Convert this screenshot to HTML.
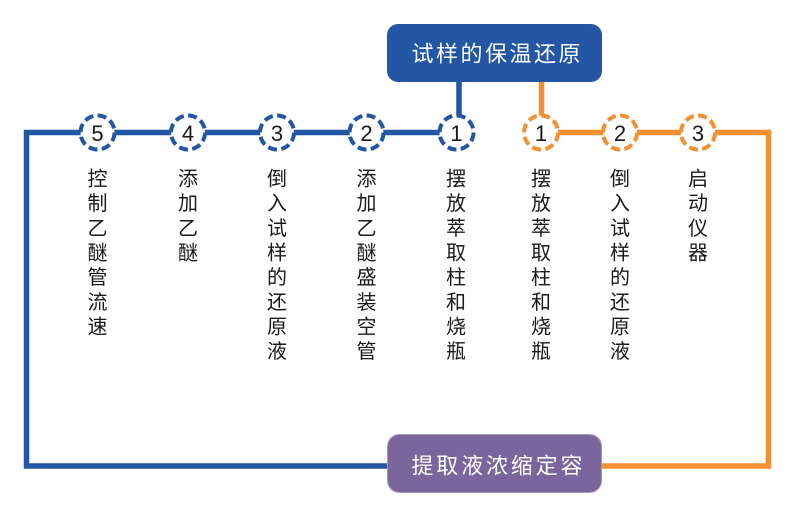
<!DOCTYPE html>
<html>
<head>
<meta charset="utf-8">
<style>
  html,body{margin:0;padding:0;background:#fff;}
  svg{display:block;}
  text{font-family:"Liberation Sans","Noto Sans CJK SC",sans-serif;}
</style>
</head>
<body>
<svg width="806" height="520" viewBox="0 0 806 520" xmlns="http://www.w3.org/2000/svg">
  <!-- connector lines -->
  <path d="M459 82 V132.5 H26.5 V466 H390" fill="none" stroke="#2456a6" stroke-width="5.5" stroke-linejoin="miter"/>
  <path d="M541.5 82 V132.5 H768.5 V466 H600" fill="none" stroke="#f39132" stroke-width="5.5" stroke-linejoin="miter"/>

  <!-- top box -->
  <rect x="387" y="24" width="215" height="58" rx="11" ry="11" fill="#2456a6"/>
  <text font-size="22" fill="#ffffff" text-anchor="middle">
    <tspan x="422.5" y="61.5">试</tspan><tspan x="447" y="61.5">样</tspan><tspan x="471.5" y="61.5">的</tspan><tspan x="496" y="61.5">保</tspan><tspan x="520.5" y="61.5">温</tspan><tspan x="545" y="61.5">还</tspan><tspan x="569.5" y="61.5">原</tspan>
  </text>

  <!-- bottom box -->
  <rect x="387.5" y="434.5" width="214" height="58" rx="12" ry="12" fill="#7a659c" stroke="#a597c0" stroke-width="1"/>
  <text font-size="22" fill="#ffffff" text-anchor="middle">
    <tspan x="422.5" y="473.5">提</tspan><tspan x="447.3" y="473.5">取</tspan><tspan x="472.2" y="473.5">液</tspan><tspan x="497" y="473.5">浓</tspan><tspan x="521.8" y="473.5">缩</tspan><tspan x="546.7" y="473.5">定</tspan><tspan x="571.5" y="473.5">容</tspan>
  </text>

  <!-- circles blue -->
  <g fill="#ffffff" stroke="#2456a6" stroke-width="4" stroke-dasharray="9 4.35">
    <circle cx="97.5" cy="132.5" r="17"/>
    <circle cx="188" cy="132.5" r="17"/>
    <circle cx="277" cy="132.5" r="17"/>
    <circle cx="366.5" cy="132.5" r="17"/>
    <circle cx="456.5" cy="132.5" r="17"/>
  </g>
  <!-- circles orange -->
  <g fill="#ffffff" stroke="#f39132" stroke-width="4" stroke-dasharray="9 4.35">
    <circle cx="541" cy="132.5" r="17"/>
    <circle cx="620" cy="132.5" r="17"/>
    <circle cx="698" cy="132.5" r="17"/>
  </g>

  <!-- numbers -->
  <g font-size="22" fill="#1a1a1a" text-anchor="middle">
    <text x="97.5" y="141.2">5</text>
    <text x="188" y="141.2">4</text>
    <text x="277" y="141.2">3</text>
    <text x="366.5" y="141.2">2</text>
    <text x="456.5" y="141.2">1</text>
    <text x="541" y="141.2">1</text>
    <text x="620" y="141.2">2</text>
    <text x="698" y="141.2">3</text>
  </g>

  <!-- vertical labels -->
  <g font-size="20" fill="#1a1a1a" text-anchor="middle">
    <text><tspan x="97.5" y="185.5">控</tspan><tspan x="97.5" y="210.15">制</tspan><tspan x="97.5" y="234.8">乙</tspan><tspan x="97.5" y="259.45">醚</tspan><tspan x="97.5" y="284.1">管</tspan><tspan x="97.5" y="308.75">流</tspan><tspan x="97.5" y="333.4">速</tspan></text>
    <text><tspan x="188" y="185.5">添</tspan><tspan x="188" y="210.15">加</tspan><tspan x="188" y="234.8">乙</tspan><tspan x="188" y="259.45">醚</tspan></text>
    <text><tspan x="277" y="185.5">倒</tspan><tspan x="277" y="210.15">入</tspan><tspan x="277" y="234.8">试</tspan><tspan x="277" y="259.45">样</tspan><tspan x="277" y="284.1">的</tspan><tspan x="277" y="308.75">还</tspan><tspan x="277" y="333.4">原</tspan><tspan x="277" y="358.05">液</tspan></text>
    <text><tspan x="366.5" y="185.5">添</tspan><tspan x="366.5" y="210.15">加</tspan><tspan x="366.5" y="234.8">乙</tspan><tspan x="366.5" y="259.45">醚</tspan><tspan x="366.5" y="284.1">盛</tspan><tspan x="366.5" y="308.75">装</tspan><tspan x="366.5" y="333.4">空</tspan><tspan x="366.5" y="358.05">管</tspan></text>
    <text><tspan x="456" y="185.5">摆</tspan><tspan x="456" y="210.15">放</tspan><tspan x="456" y="234.8">萃</tspan><tspan x="456" y="259.45">取</tspan><tspan x="456" y="284.1">柱</tspan><tspan x="456" y="308.75">和</tspan><tspan x="456" y="333.4">烧</tspan><tspan x="456" y="358.05">瓶</tspan></text>
    <text><tspan x="541" y="185.5">摆</tspan><tspan x="541" y="210.15">放</tspan><tspan x="541" y="234.8">萃</tspan><tspan x="541" y="259.45">取</tspan><tspan x="541" y="284.1">柱</tspan><tspan x="541" y="308.75">和</tspan><tspan x="541" y="333.4">烧</tspan><tspan x="541" y="358.05">瓶</tspan></text>
    <text><tspan x="620" y="185.5">倒</tspan><tspan x="620" y="210.15">入</tspan><tspan x="620" y="234.8">试</tspan><tspan x="620" y="259.45">样</tspan><tspan x="620" y="284.1">的</tspan><tspan x="620" y="308.75">还</tspan><tspan x="620" y="333.4">原</tspan><tspan x="620" y="358.05">液</tspan></text>
    <text><tspan x="698" y="185.5">启</tspan><tspan x="698" y="210.15">动</tspan><tspan x="698" y="234.8">仪</tspan><tspan x="698" y="259.45">器</tspan></text>
  </g>
</svg>
</body>
</html>
